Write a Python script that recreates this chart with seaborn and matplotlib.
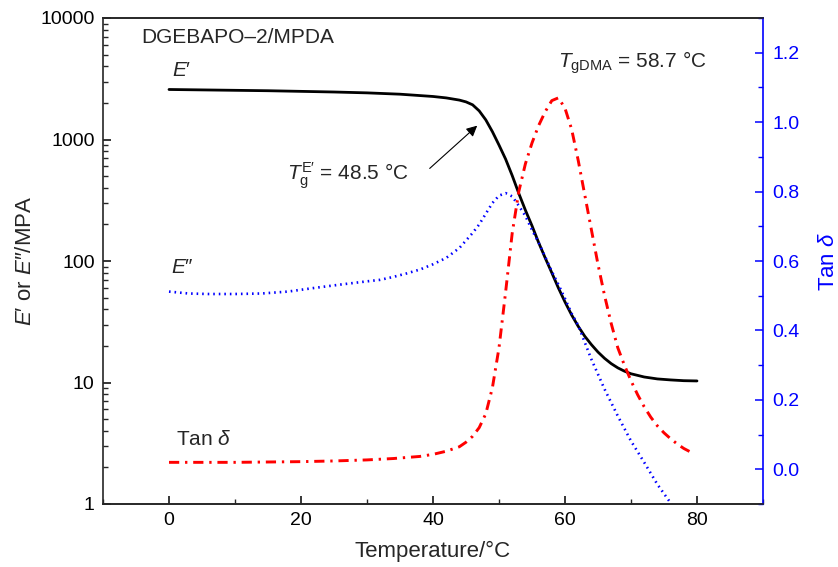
import numpy as np
import pandas as pd
import matplotlib
matplotlib.use("Agg")
import matplotlib.pyplot as plt
import matplotlib.ticker as mticker
import seaborn as sns

# ---- data ----
e_storage_temp = [0, 5, 10, 15, 20, 25, 30, 35, 40, 42, 44, 45, 46, 47, 48, 49, 50, 51, 52,
                  53, 54, 55, 56, 57, 58, 59, 60, 61, 62, 63, 64, 65, 66, 67, 68, 69, 70,
                  72, 74, 76, 78, 80]
e_storage = [2580, 2560, 2540, 2520, 2490, 2460, 2420, 2360, 2260, 2200, 2110, 2040, 1930,
             1720, 1450, 1160, 900, 690, 505, 360, 262, 195, 142, 106, 80, 60, 46, 36, 29,
             24, 20.5, 17.8, 15.8, 14.3, 13.2, 12.4, 11.8, 11.1, 10.7, 10.5, 10.35, 10.3]

e_loss_temp = [0, 3, 6, 10, 14, 18, 22, 26, 30, 32, 34, 36, 38, 40, 42, 44, 46, 47, 48, 49,
               50, 51, 52, 53, 54, 55, 56, 57, 58, 59, 60, 61, 62, 64, 66, 68, 70, 72, 74,
               76, 78, 80]
e_loss = [56, 54, 53.5, 53.5, 54, 56, 60, 64, 68, 70, 74, 79, 85, 94, 106, 128, 170, 200,
          245, 300, 345, 362, 340, 285, 235, 180, 142, 108, 82, 64, 49, 37, 29.5, 15.5, 8.8,
          5.3, 3.3, 2.2, 1.45, 1.02, 0.7, 0.48]

tan_temp = [0, 5, 10, 15, 20, 25, 30, 34, 38, 40, 42, 44, 45, 46, 47, 48, 49, 50, 51, 52,
            53, 54, 55, 56, 57, 58, 59, 60, 61, 62, 63, 64, 65, 66, 67, 68, 69, 70, 71, 72,
            73, 74, 75, 76, 77, 78, 79]
tan_delta = [0.020, 0.020, 0.020, 0.021, 0.022, 0.024, 0.027, 0.031, 0.037, 0.043, 0.052,
             0.065, 0.078, 0.095, 0.12, 0.16, 0.235, 0.35, 0.51, 0.68, 0.80, 0.88, 0.94,
             0.99, 1.03, 1.062, 1.07, 1.04, 0.98, 0.89, 0.79, 0.69, 0.59, 0.50, 0.42, 0.35,
             0.30, 0.255, 0.215, 0.18, 0.15, 0.125, 0.105, 0.088, 0.073, 0.06, 0.05]

x_ticks = [0, 20, 40, 60, 80]
left_ticks = [1, 10, 100, 1000, 10000]
right_ticks = [0.0, 0.2, 0.4, 0.6, 0.8, 1.0, 1.2]

df_es = pd.DataFrame({"T": e_storage_temp, "v": e_storage})
df_el = pd.DataFrame({"T": e_loss_temp, "v": e_loss})
df_tan = pd.DataFrame({"T": tan_temp, "v": tan_delta})

# ---- style ----
sns.set_theme(style="ticks")
plt.rcParams["font.family"] = ["Liberation Sans", "DejaVu Sans"]
plt.rcParams["mathtext.fontset"] = "custom"
plt.rcParams["mathtext.rm"] = "Liberation Sans"
plt.rcParams["mathtext.it"] = "Liberation Sans:italic"
plt.rcParams["mathtext.bf"] = "Liberation Sans:bold"
plt.rcParams["mathtext.fallback"] = "stixsans"

fig = plt.figure(figsize=(8.38, 5.67), dpi=100)
fig.subplots_adjust(left=103 / 838, right=763 / 838, top=1 - 18 / 567, bottom=1 - 504 / 567)
ax = fig.add_subplot(111)
ax2 = ax.twinx()

sns.lineplot(data=df_es, x="T", y="v", ax=ax, color="black", lw=2.0, estimator=None, sort=False)
sns.lineplot(data=df_el, x="T", y="v", ax=ax, color="blue", lw=1.9, estimator=None, sort=False,
             linestyle=(0, (0.6, 1.5)))
sns.lineplot(data=df_tan, x="T", y="v", ax=ax2, color="red", lw=2.1, estimator=None, sort=False,
             linestyle=(0, (3.5, 2.0, 0.8, 2.0)))

ax.set_yscale("log")
ax.set_xlim(-10, 90)
ax.set_ylim(1, 10000)
ax2.set_ylim(-0.1, 1.3)

ax.set_xticks(x_ticks)
ax.set_xticklabels([str(t) for t in x_ticks])
ax.xaxis.set_minor_locator(mticker.MultipleLocator(10))
ax.set_yticks(left_ticks)
ax.set_yticklabels([str(t) for t in left_ticks])
ax.yaxis.set_minor_locator(mticker.LogLocator(base=10, subs=np.arange(2, 10), numticks=20))
ax.yaxis.set_minor_formatter(mticker.NullFormatter())
ax2.set_yticks(right_ticks)
ax2.set_yticklabels([f"{t:.1f}" for t in right_ticks])
ax2.yaxis.set_minor_locator(mticker.MultipleLocator(0.1))

for a in (ax, ax2):
    for s in a.spines.values():
        s.set_linewidth(1.2)
ax.tick_params(axis="both", which="major", direction="in", length=6, width=1.1,
               labelsize=14, colors="black", pad=6)
ax.tick_params(axis="both", which="minor", direction="in", length=3.5, width=1.0)
ax.tick_params(axis="x", top=False, which="both")
ax.tick_params(axis="y", right=False, which="both")
ax2.tick_params(axis="y", which="major", direction="in", length=6, width=1.1,
                labelsize=14, colors="blue", pad=7)
ax2.tick_params(axis="y", which="minor", direction="in", length=3.5, width=1.0, colors="blue")
ax2.spines["right"].set_color("blue")
ax2.spines["left"].set_visible(False)
ax.spines["right"].set_visible(False)

ax.set_xlabel("Temperature/°C", fontsize=16, labelpad=8)
ax.set_ylabel(r"$\mathit{E}$′ or $\mathit{E}$″/MPA", fontsize=16, labelpad=3)
ax2.set_ylabel(r"Tan $\mathit{δ}$", fontsize=16, color="blue", labelpad=13)

ax.text(-4.25, 6855, "DGEBAPO–2/MPDA", fontsize=15, ha="left", va="center")
ax.text(0.45, 3680, r"$\mathit{E}$′", fontsize=15, ha="left", va="center")
ax.text(0.3, 87.6, r"$\mathit{E}$″", fontsize=15, ha="left", va="center")
ax.text(1.0, 3.41, r"Tan $\mathit{δ}$", fontsize=15, ha="left", va="center")
ax.text(58.9, 3890, r"$\mathit{T}_{\mathrm{gDMA}}$ = 58.7 °C", fontsize=15, ha="left", va="baseline")
ax.text(17.9, 461, r"$\mathit{T}_{\mathrm{g}}^{\mathrm{E′}}$ = 48.5 °C", fontsize=15, ha="left", va="baseline")
ax.annotate("", xy=(46.7, 1300), xytext=(39.5, 578),
            arrowprops=dict(arrowstyle="-|>", lw=0.8, color="black", mutation_scale=16,
                            shrinkA=0, shrinkB=0))

fig.savefig("out.png", dpi=100)
